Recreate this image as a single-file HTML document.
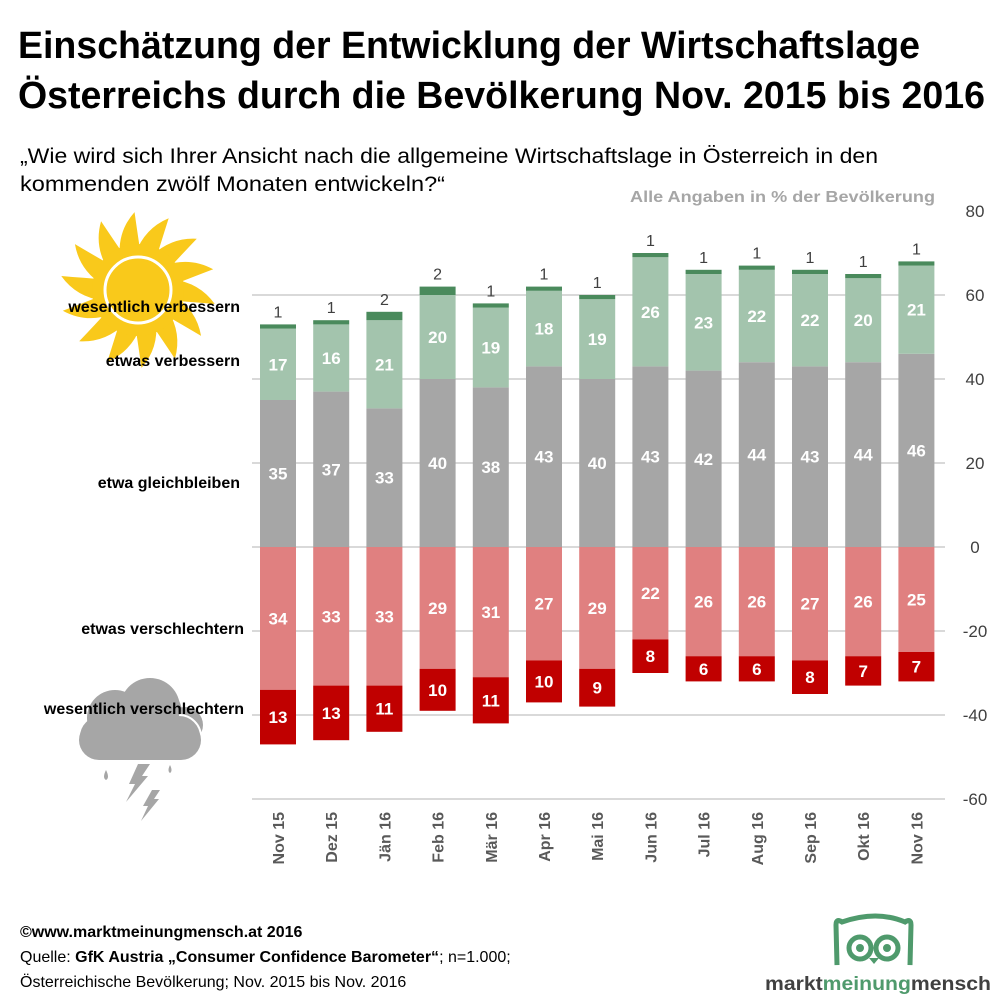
<!DOCTYPE html>
<html><head><meta charset="utf-8"><style>html,body{margin:0;padding:0;background:#fff}svg{display:block}</style></head>
<body>
<svg id="s" width="999" height="1006" xmlns="http://www.w3.org/2000/svg" font-family="Liberation Sans, sans-serif">
<rect width="999" height="1006" fill="#fff"/>
<text x="18" y="58" font-size="38" font-weight="bold" textLength="902" lengthAdjust="spacingAndGlyphs">Einschätzung der Entwicklung der Wirtschaftslage</text>
<text x="18" y="108" font-size="38" font-weight="bold" textLength="967" lengthAdjust="spacingAndGlyphs">Österreichs durch die Bevölkerung Nov. 2015 bis 2016</text>
<text x="20" y="163" font-size="21" textLength="858" lengthAdjust="spacingAndGlyphs">„Wie wird sich Ihrer Ansicht nach die allgemeine Wirtschaftslage in Österreich in den</text>
<text x="20" y="191" font-size="21" textLength="425" lengthAdjust="spacingAndGlyphs">kommenden zwölf Monaten entwickeln?“</text>
<text x="935" y="202" font-size="16" font-weight="bold" fill="#a6a6a6" text-anchor="end" textLength="305" lengthAdjust="spacingAndGlyphs">Alle Angaben in % der Bevölkerung</text>
<g id="sun" fill="#f9c91b"></g>
<circle cx="138" cy="290" r="33" fill="#f9c91b" stroke="#fff" stroke-width="3"/>
<g fill="#a6a6a6">
<circle cx="160" cy="712" r="22"/><circle cx="185" cy="725" r="18"/>
<rect x="79" y="715" width="122" height="45" rx="22" stroke="#fff" stroke-width="2"/>
<circle cx="115" cy="718" r="28"/><circle cx="150" cy="708" r="30"/>
<rect x="79" y="720" width="122" height="40" rx="20"/>
<path d="M106 770 q4 8 0 10 q-4 -2 0 -10z"/><path d="M170 765 q3 6 0 8 q-3 -2 0 -8z"/>
<path d="M138 764 l12 0 -8 12 6 0 -22 26 9 -18 -6 0z"/>
<path d="M152 790 l8 0 -6 9 5 0 -18 22 7 -15 -5 0z"/>
</g>
<g font-size="16" font-weight="bold" text-anchor="end">
<text x="240" y="312">wesentlich verbessern</text>
<text x="240" y="366">etwas verbessern</text>
<text x="240" y="488">etwa gleichbleiben</text>
<text x="244" y="634">etwas verschlechtern</text>
<text x="244" y="714">wesentlich verschlechtern</text>
</g>
<g id="grid" stroke="#d9d9d9" stroke-width="2"></g>
<g id="bars"></g>
<text x="20" y="937" font-size="16" font-weight="bold">©www.marktmeinungmensch.at 2016</text>
<text x="20" y="962" font-size="16">Quelle: <tspan font-weight="bold">GfK Austria „Consumer Confidence Barometer“</tspan>; n=1.000;</text>
<text x="20" y="987" font-size="16">Österreichische Bevölkerung; Nov. 2015 bis Nov. 2016</text>
<g fill="none" stroke="#4f9a6c" stroke-width="5">
<path d="M837 965 L836 925 Q836 918 842 922 Q877 910 905 922 Q911 918 911 925 L910 965"/>
<circle cx="860" cy="948" r="11"/><circle cx="887" cy="948" r="11"/>
</g>
<g fill="#4f9a6c"><circle cx="860" cy="948" r="4"/><circle cx="887" cy="948" r="4"/><path d="M869 958 l5 6 5 -6z"/></g>
<text x="765" y="990" font-size="19" font-weight="bold" fill="#404040" textLength="226" lengthAdjust="spacingAndGlyphs">markt<tspan fill="#4f9a6c">meinung</tspan>mensch</text>
</svg>
<script>
const NS="http://www.w3.org/2000/svg";
function el(p,t,a,txt){const e=document.createElementNS(NS,t);for(const k in a)e.setAttribute(k,a[k]);if(txt!==undefined)e.textContent=txt;p.appendChild(e);return e;}
const sun=document.getElementById('sun');
for(let i=0;i<14;i++){const a=i*2*Math.PI/14;const cx=138,cy=290;
 const p=(r,da)=>[cx+r*Math.cos(a+da),cy+r*Math.sin(a+da)];
 const b1=p(36,-0.3),b2=p(36,0.3),t=p(78,0.18),c=p(62,-0.12),c2=p(55,0.22);
 el(sun,'path',{d:`M${b1} Q${c} ${t} Q${c2} ${b2}Z`.replace(/,/g,' ')});}
el(sun,'circle',{cx:138,cy:290,r:46});
const Z=547,S=4.2;const grid=document.getElementById('grid');
[80,60,40,20,0,-20,-40,-60].forEach(v=>{const y=Z-v*S;if(v!==80)el(grid,'line',{x1:252,x2:945,y1:y,y2:y});
 el(document.getElementById('s'),'text',{x:975,y:y+6,'font-size':17,fill:'#404040','text-anchor':'middle'},v);});
const months=["Nov 15","Dez 15","Jän 16","Feb 16","Mär 16","Apr 16","Mai 16","Jun 16","Jul 16","Aug 16","Sep 16","Okt 16","Nov 16"];
const wv=[1,1,2,2,1,1,1,1,1,1,1,1,1],ev=[17,16,21,20,19,18,19,26,23,22,22,20,21],gl=[35,37,33,40,38,43,40,43,42,44,43,44,46],
 es=[34,33,33,29,31,27,29,22,26,26,27,26,25],ws=[13,13,11,10,11,10,9,8,6,6,8,7,7];
const g=document.getElementById('bars');
months.forEach((m,i)=>{const x=260+i*53.2,w=36,cx=x+w/2;
 let y0=Z;const seg=(v,col,lab,up)=>{const h=v*S;const y=up?y0-h:y0;el(g,'rect',{x,y,width:w,height:h,fill:col});
  if(lab)el(g,'text',{x:cx,y:y+h/2+6,'font-size':17,'font-weight':'bold',fill:'#fff','text-anchor':'middle'},v);
  y0=up?y0-h:y0+h;};
 seg(gl[i],'#a6a6a6',1,1);seg(ev[i],'#a3c4ad',1,1);seg(wv[i],'#4a8a5c',0,1);
 el(g,'text',{x:cx,y:y0-7,'font-size':16,fill:'#404040','text-anchor':'middle'},wv[i]);
 y0=Z;seg(es[i],'#e08080',1,0);seg(ws[i],'#c00000',1,0);
 el(g,'text',{x:0,y:0,'font-size':16,'font-weight':'bold',fill:'#595959','text-anchor':'end',transform:`translate(${cx+6},812) rotate(-90)`},m);
});
</script>
</body></html>
